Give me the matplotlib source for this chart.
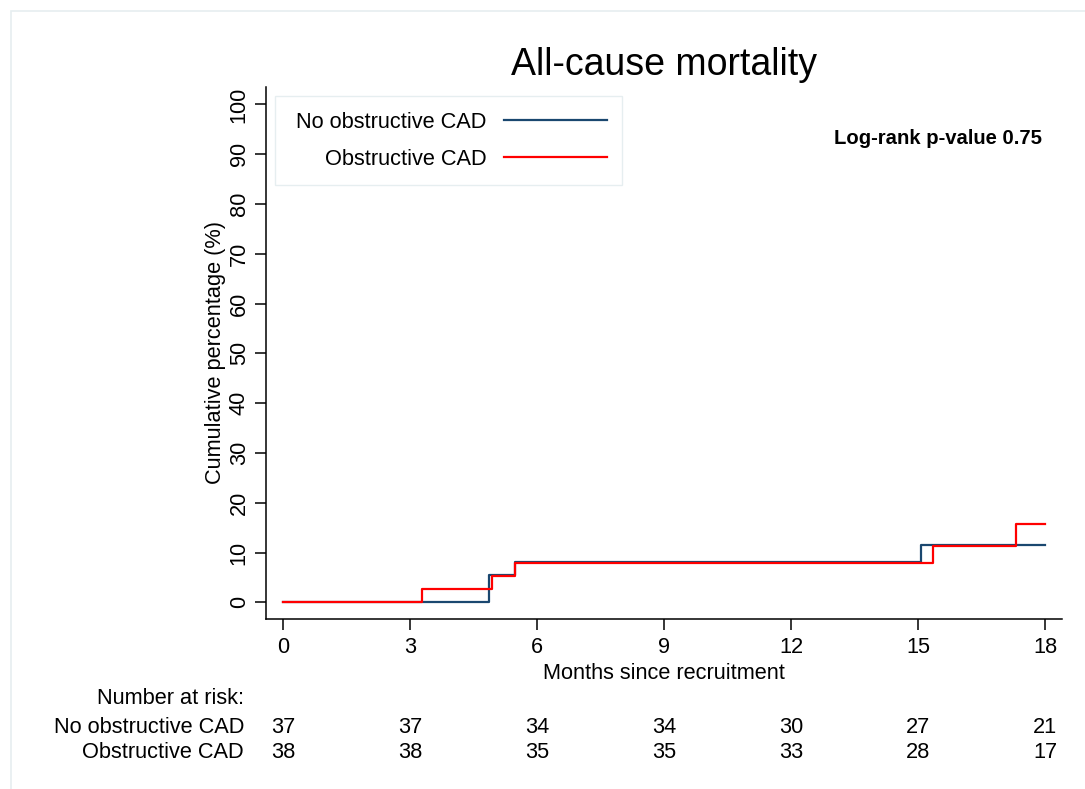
import matplotlib
matplotlib.use("Agg")
import matplotlib.pyplot as plt
import matplotlib.transforms as mtransforms

plt.rcParams['font.family'] = ['Liberation Sans', 'DejaVu Sans']

# step data (months, cumulative %)
no_cad_t = [0, 4.85, 5.46, 15.06, 18]
no_cad_pct = [0, 5.4, 8.1, 11.6, 11.6]
cad_t = [0, 3.28, 4.92, 5.46, 15.34, 17.3, 18]
cad_pct = [0, 2.6, 5.3, 7.9, 11.4, 15.7, 15.7]

x_ticks = [0, 3, 6, 9, 12, 15, 18]
y_ticks = [0, 10, 20, 30, 40, 50, 60, 70, 80, 90, 100]
groups = ['No obstructive CAD', 'Obstructive CAD']
at_risk_no_cad = [37, 37, 34, 34, 30, 27, 21]
at_risk_cad = [38, 38, 35, 35, 33, 28, 17]

navy = '#1a476f'
red = '#ff0000'
fs = 15.7

fig = plt.figure(figsize=(10.85, 7.89), dpi=100)
ax = fig.add_axes([0.2449, 0.2155, 0.7336, 0.6742])

# faint outer frame like the original export
fig.patches.append(plt.Rectangle((11 / 1085, -0.05), 1.2, 1 - 11 / 789 + 0.05,
                                 transform=fig.transFigure, fill=False,
                                 edgecolor='#e6eef0', linewidth=1.2))

ax.step(no_cad_t, no_cad_pct, where='post', color=navy, lw=1.6,
        label=' ' + groups[0])
ax.step(cad_t, cad_pct, where='post', color=red, lw=1.6,
        label=' ' + groups[1])

ax.set_xlim(-0.42, 18.39)
ax.set_ylim(-3.35, 103.5)
ax.set_xticks(x_ticks)
ax.set_yticks(y_ticks)

for s in ['top', 'right']:
    ax.spines[s].set_visible(False)
for s in ['left', 'bottom']:
    ax.spines[s].set_linewidth(1.1)

ax.tick_params(axis='x', length=8, width=1.1, pad=4.7, labelsize=fs)
ax.tick_params(axis='y', length=8, width=1.1, pad=3.5, labelsize=fs,
               labelrotation=90)
plt.setp(ax.get_yticklabels(), va='center')

ax.set_xlabel('Months since recruitment', fontsize=fs, labelpad=3.6)
ax.set_ylabel('Cumulative percentage (%)', fontsize=fs, labelpad=2)
ax.set_title('All-cause mortality', fontsize=27, pad=8.5)

leg = ax.legend(loc='upper left', markerfirst=False, fontsize=fs,
                handlelength=4.7, handletextpad=0.8, labelspacing=0.73,
                borderpad=0.7, borderaxespad=0.43, fancybox=False,
                framealpha=1)
leg.get_frame().set_edgecolor('#e6eef0')
leg.get_frame().set_linewidth(1.0)

ax.text(0.9752, 0.904, 'Log-rank p-value 0.75', transform=ax.transAxes,
        ha='right', va='center', fontsize=14.6, fontweight='bold')

# number at risk table
trans = mtransforms.blended_transform_factory(ax.transData, fig.transFigure)
label_x = 244 / 1085
row_y = [1 - 727.5 / 789, 1 - 753 / 789]
fig.text(label_x, 1 - 698 / 789, 'Number at risk:', ha='right', va='center',
         fontsize=fs)
for name, counts, y in zip(groups, [at_risk_no_cad, at_risk_cad], row_y):
    fig.text(label_x, y, name, ha='right', va='center', fontsize=fs)
    for t, n in zip(x_ticks, counts):
        ax.text(t, y, str(n), transform=trans, ha='center', va='center',
                fontsize=fs, clip_on=False)

fig.savefig('out.png', dpi=100)
